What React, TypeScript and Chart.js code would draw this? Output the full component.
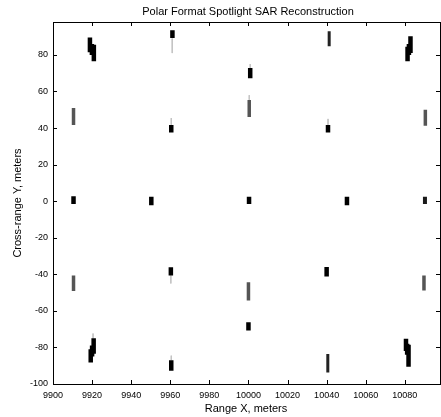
import React, { useEffect, useRef } from "react";
import { Chart, registerables } from "chart.js";

Chart.register(...registerables);

const chartTitle = "Polar Format Spotlight SAR Reconstruction";
const xAxisLabel = "Range X, meters";
const yAxisLabel = "Cross-range Y, meters";

const xTicks = [9900, 9920, 9940, 9960, 9980, 10000, 10020, 10040, 10060, 10080];
const yTicks = [-100, -80, -60, -40, -20, 0, 20, 40, 60, 80];
const xRange = [9900, 10098];
const yRange = [-100, 98];

// Reconstructed scatterer returns: each is a short vertical streak in the image
const segX = [
  9918.9, 9920.9, 9961.1, 9961, 9910.5, 9960.5, 9960.5, 9910.5, 9950.3, 9910.5,
  9960.3, 9960.3, 9920.8, 9919.3, 9920.5, 9960.5, 9960.5,
  10000.9, 10000.9, 10000.4, 10000.4, 10000.3, 10000, 10000,
  10041.3, 10082.9, 10081.4, 10040.7, 10040.7, 10090.5, 10050.4, 10090.3,
  10040, 10089.8, 10040.6, 10080.6, 10081.9,
  9919.9, 10082.1, 9920, 10081.2,
];
const segTop = [
  89.5, 85.5, 93.5, 89, 51, 41.7, 45.5, 2.7, 2.4, -40.6,
  -36.2, -40.6, -75, -81, -72.4, -87, -84.5,
  72.8, 75, 55.4, 58, 2.4, -44.3, -66.2,
  92.9, 90.2, 84.5, 41.7, 45, 50, 2.4, 2.4,
  -36, -40.6, -83.6, -75.2, -78.5,
  86, 86, -79, -78,
];
const segBottom = [
  81.5, 76.5, 89.3, 81, 41.7, 37.5, 41.7, -1.6, -2.2, -49.2,
  -40.6, -45, -83.5, -88.2, -75, -92.8, -87,
  67.3, 72.8, 46, 55.4, -1.6, -54.3, -70.8,
  84.7, 81, 76.5, 37.5, 41.7, 41.2, -2.2, -1.6,
  -41.2, -48.8, -93.7, -82, -90.5,
  80, 80, -85, -84,
];
const segIntensity = [
  1, 1, 1, 0.2, 0.6, 1, 0.3, 1, 1, 0.6,
  1, 0.3, 1, 1, 0.3, 1, 0.4,
  1, 0.2, 0.6, 0.2, 1, 0.6, 1,
  0.8, 1, 1, 1, 0.2, 0.6, 1, 0.9,
  1, 0.6, 0.8, 1, 1,
  1, 1, 1, 1,
];

const framePlugin = {
  id: "sarFrame",
  afterDraw(chart: any) {
    const { ctx, chartArea: a, scales } = chart;
    ctx.save();
    ctx.strokeStyle = "#000";
    ctx.lineWidth = 1;
    ctx.strokeRect(a.left + 0.5, a.top + 0.5, a.right - a.left, a.bottom - a.top);
    ctx.beginPath();
    for (const v of xTicks) {
      const px = Math.round(scales.x.getPixelForValue(v)) + 0.5;
      ctx.moveTo(px, a.bottom);
      ctx.lineTo(px, a.bottom - 4);
      ctx.moveTo(px, a.top);
      ctx.lineTo(px, a.top + 4);
    }
    for (const v of yTicks) {
      const py = Math.round(scales.y.getPixelForValue(v)) + 0.5;
      ctx.moveTo(a.left, py);
      ctx.lineTo(a.left + 4, py);
      ctx.moveTo(a.right, py);
      ctx.lineTo(a.right - 4, py);
    }
    ctx.stroke();

    ctx.fillStyle = "#000";
    ctx.textAlign = "center";
    ctx.textBaseline = "middle";
    ctx.font = '11px "Liberation Sans", Arial, sans-serif';
    ctx.fillText(chartTitle, 248, 12);
    ctx.fillText(xAxisLabel, 246, 409);
    ctx.translate(18, (a.top + a.bottom) / 2);
    ctx.rotate(-Math.PI / 2);
    ctx.fillText(yAxisLabel, 0, 0);
    ctx.restore();
  },
};

function styleFor(intensity: number) {
  if (intensity >= 0.95) return { color: "#000", width: 4.5 };
  if (intensity >= 0.85) return { color: "#1a1a1a", width: 4 };
  if (intensity >= 0.75) return { color: "#222", width: 3 };
  if (intensity >= 0.5) return { color: "#555", width: 3.5 };
  return { color: "#c4c4c4", width: 1 };
}

export default function App() {
  const ref = useRef<HTMLCanvasElement | null>(null);

  useEffect(() => {
    if (!ref.current) return;
    const datasets = segX.map((x, i) => {
      const s = styleFor(segIntensity[i]);
      return {
        data: [
          { x, y: segTop[i] },
          { x, y: segBottom[i] },
        ],
        showLine: true,
        borderColor: s.color,
        borderWidth: s.width,
        borderCapStyle: "butt" as const,
        pointRadius: 0,
        pointHoverRadius: 0,
        order: segIntensity[i] >= 0.95 ? 0 : 1,
      };
    });

    const tickFont = { family: '"Liberation Sans", Arial, sans-serif', size: 9 };

    const chart = new Chart(ref.current, {
      type: "scatter",
      data: { datasets },
      options: {
        animation: false,
        responsive: false,
        devicePixelRatio: 1,
        layout: { padding: { top: 22, right: 1, left: 0, bottom: 0 } },
        plugins: {
          legend: { display: false },
          title: { display: false },
          tooltip: { enabled: false },
        },
        scales: {
          x: {
            type: "linear",
            min: xRange[0],
            max: xRange[1],
            grid: { display: false, drawTicks: false },
            border: { display: false },
            ticks: {
              autoSkip: false,
              maxRotation: 0,
              color: "#000",
              padding: 6,
              font: tickFont,
              callback: (v: any) => String(v),
            },
            afterBuildTicks: (scale: any) => {
              scale.ticks = xTicks.map((v) => ({ value: v }));
            },
            afterFit: (scale: any) => {
              scale.height = 33;
            },
          },
          y: {
            type: "linear",
            min: yRange[0],
            max: yRange[1],
            grid: { display: false, drawTicks: false },
            border: { display: false },
            ticks: {
              autoSkip: false,
              color: "#000",
              padding: 5,
              font: tickFont,
              callback: (v: any) => String(v),
            },
            afterBuildTicks: (scale: any) => {
              scale.ticks = yTicks.map((v) => ({ value: v }));
            },
            afterFit: (scale: any) => {
              scale.width = 53;
            },
          },
        },
      },
      plugins: [framePlugin],
    });
    return () => chart.destroy();
  }, []);

  return (
    <div style={{ position: "absolute", left: 0, top: 0, width: 441, height: 417, background: "#fff" }}>
      <canvas ref={ref} width={441} height={417} />
    </div>
  );
}
